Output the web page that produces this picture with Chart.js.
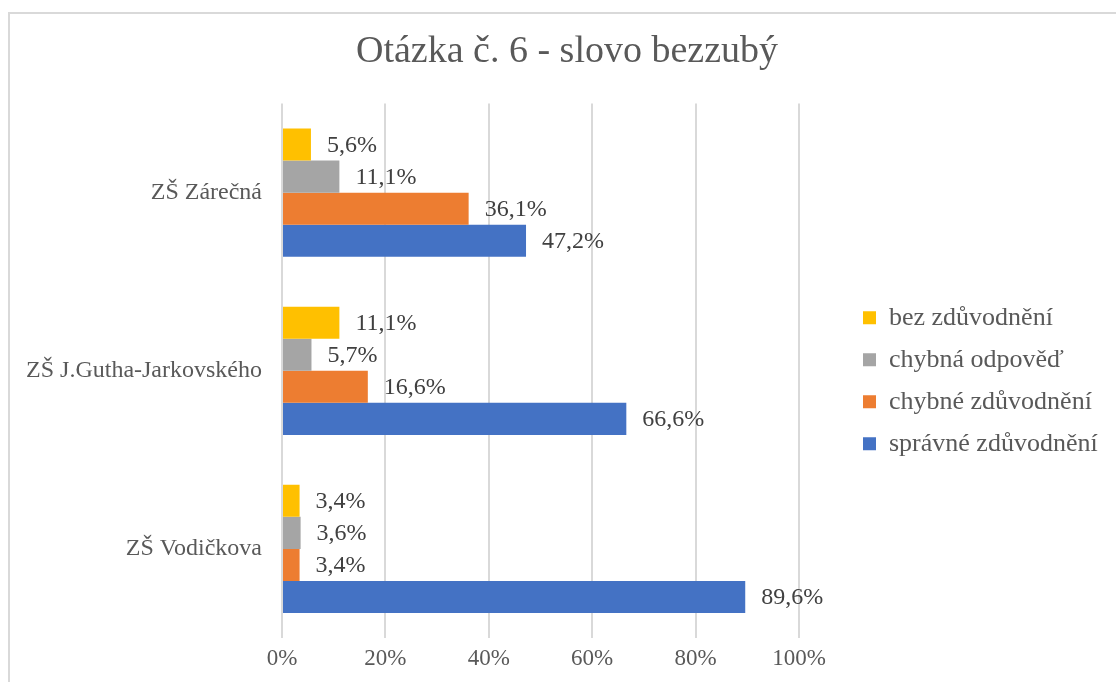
<!DOCTYPE html>
<html lang="cs">
<head>
<meta charset="utf-8">
<title>Otázka č. 6 - slovo bezzubý</title>
<script src="https://cdn.jsdelivr.net/npm/chart.js@4.4.1/dist/chart.umd.min.js"></script>
<style>
    html, body { margin: 0; padding: 0; background: #ffffff; overflow: hidden; }
    #wrap { position: absolute; left: 0; top: 0; width: 1116px; height: 682px; }
</style>
</head>
<body>
<div id="wrap"><canvas id="chart" width="1116" height="682"></canvas></div>
<script>
// data (percent)
const schools = ['ZŠ Zárečná', 'ZŠ J.Gutha-Jarkovského', 'ZŠ Vodičkova'];
const bezZduvodneni = [5.6, 11.1, 3.4];
const chybnaOdpoved = [11.1, 5.7, 3.6];
const chybneZduvodneni = [36.1, 16.6, 3.4];
const spravneZduvodneni = [47.2, 66.6, 89.6];
const xTicks = [0, 20, 40, 60, 80, 100];

const FONT = '"Liberation Serif", "Times New Roman", serif';
const TEXT = '#595959';

function fmt(v) {
    return v.toFixed(1).replace('.', ',') + '%';
}

// frame round the chart
const framePlugin = {
    id: 'frame',
    beforeDraw(chart) {
        const ctx = chart.ctx;
        ctx.save();
        ctx.fillStyle = '#ffffff';
        ctx.fillRect(0, 0, chart.width, chart.height);
        ctx.strokeStyle = '#d9d9d9';
        ctx.lineWidth = 2;
        ctx.strokeRect(9, 13, 1300, 900);
        ctx.restore();
    }
};

// fixed legend width, so the legend is not clipped
const legendWidth = {
    id: 'legendWidth',
    beforeLayout(chart) {
        const lg = chart.legend;
        if (lg && !lg._fixedWidth) {
            const fit = lg.fit;
            lg.fit = function () {
                fit.call(this);
                this.width = 287;
            };
            lg._fixedWidth = true;
        }
    }
};

// value labels to the right of each bar
const valueLabels = {
    id: 'valueLabels',
    afterDatasetsDraw(chart) {
        const ctx = chart.ctx;
        ctx.save();
        ctx.font = '24px ' + FONT;
        ctx.fillStyle = '#404040';
        ctx.textAlign = 'left';
        ctx.textBaseline = 'middle';
        chart.data.datasets.forEach((ds, i) => {
            chart.getDatasetMeta(i).data.forEach((bar, j) => {
                ctx.fillText(fmt(ds.data[j]), bar.x + 16, bar.y + 1);
            });
        });
        ctx.restore();
    }
};

const ctx = document.getElementById('chart').getContext('2d');
const chart = new Chart(ctx, {
    type: 'bar',
    data: {
        labels: schools,
        datasets: [
            { label: 'bez zdůvodnění', data: bezZduvodneni, backgroundColor: '#FFC000' },
            { label: 'chybná odpověď', data: chybnaOdpoved, backgroundColor: '#A5A5A5' },
            { label: 'chybné zdůvodnění', data: chybneZduvodneni, backgroundColor: '#ED7D31' },
            { label: 'správné zdůvodnění', data: spravneZduvodneni, backgroundColor: '#4472C4' }
        ]
    },
    options: {
        indexAxis: 'y',
        responsive: false,
        animation: false,
        datasets: {
            bar: { barPercentage: 1, categoryPercentage: 0.72, borderWidth: 0 }
        },
        layout: { padding: { left: 0, right: -18, top: 0, bottom: 0 } },
        scales: {
            x: {
                min: 0,
                max: 100,
                afterBuildTicks: (s) => { s.ticks = xTicks.map(v => ({ value: v })); },
                grid: { color: '#d9d9d9', lineWidth: 2, drawTicks: false },
                border: { display: false },
                ticks: {
                    padding: 7,
                    color: TEXT,
                    font: { family: FONT, size: 23 },
                    callback: (v) => v + '%'
                },
                afterFit: (s) => { s.height = 44; }
            },
            y: {
                grid: { display: false, drawTicks: false },
                border: { display: false },
                ticks: {
                    padding: 20,
                    color: TEXT,
                    font: { family: FONT, size: 24 }
                },
                afterFit: (s) => { s.width = 282; }
            },
            // empty axis, keeps the gap between plot and legend
            gap: {
                type: 'linear',
                position: 'right',
                display: true,
                grid: { display: false, drawTicks: false },
                border: { display: false },
                ticks: { display: false },
                afterFit: (s) => { s.width = 48; }
            }
        },
        plugins: {
            title: {
                display: true,
                text: 'Otázka č. 6 - slovo bezzubý',
                color: TEXT,
                font: { family: FONT, size: 38, weight: 'normal', lineHeight: 1.2 },
                padding: { top: 29, bottom: 29 }
            },
            legend: {
                position: 'right',
                fullSize: false,
                title: { display: true, text: ' ', font: { size: 10, lineHeight: 1 }, padding: 5 },
                labels: {
                    boxWidth: 13,
                    boxHeight: 13,
                    padding: 16,
                    color: TEXT,
                    font: { family: FONT, size: 26 }
                }
            },
            tooltip: { enabled: false }
        }
    },
    plugins: [framePlugin, legendWidth, valueLabels]
});
</script>
</body>
</html>
